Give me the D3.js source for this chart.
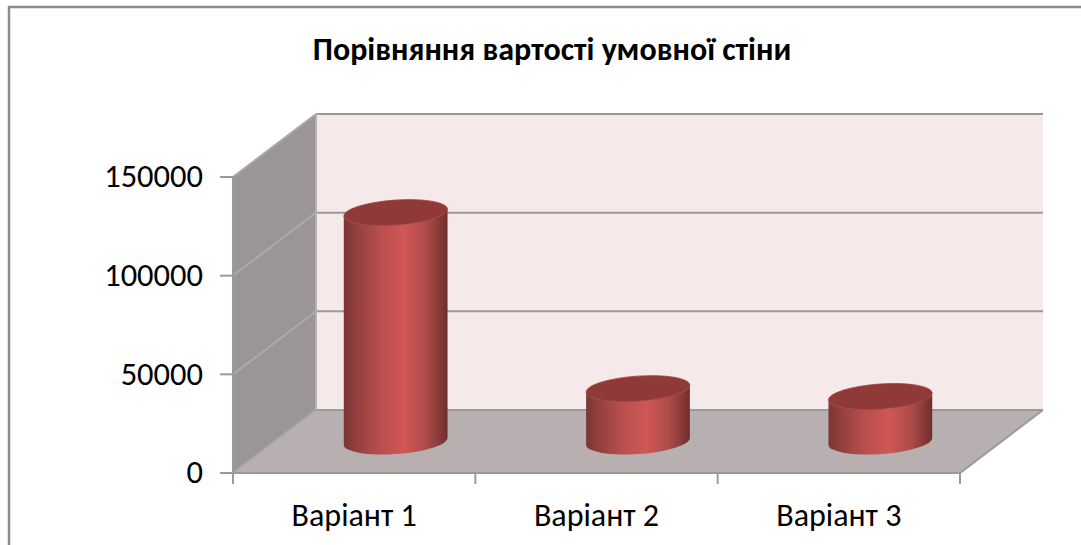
<!DOCTYPE html>
<html>
<head>
<meta charset="utf-8">
<script src="https://cdn.jsdelivr.net/npm/d3@7"></script>
<style>
html, body { margin: 0; padding: 0; background: #fff; }
svg { display: block; font-family: Carlito, Lato, "Open Sans", sans-serif; }
</style>
</head>
<body>
<div id="chart"></div>
<script>
const categories = ['Варіант 1', 'Варіант 2', 'Варіант 3'];
const wallCost = [116000, 26800, 22800];
const yTicks = [0, 50000, 100000, 150000];
const chartTitle = 'Порівняння вартості умовної стіни';

const width = 1081, height = 545;
const x0 = 233, x1 = 960, y0 = 473, yTop = 177;
const depthX = 83, depthY = -63;
const rx = 52, ry = 12.5, tilt = -4;
const gridColor = '#9a9a9a';
const fontFamily = 'Carlito, Lato, "Open Sans", sans-serif';

const svg = d3.select('#chart').append('svg')
    .attr('width', width)
    .attr('height', height);

const scaleX = d3.scaleBand().domain(categories).range([x0, x1]);
const scaleY = d3.scaleLinear().domain([0, 150000]).range([y0, yTop]);
const edgeX = d3.scaleLinear().domain([0, categories.length]).range([x0, x1]);

// cylinder shading
const grad = svg.append('defs').append('linearGradient')
    .attr('id', 'cyl')
    .attr('x1', '0%').attr('x2', '100%')
    .attr('y1', '0%').attr('y2', '0%');
[[0, '#7c3634'], [0.12, '#923f3e'], [0.35, '#b84f4e'], [0.58, '#d05755'], [0.8, '#ab4b49'], [0.94, '#823735'], [1, '#6d2e2d']]
    .forEach(s => grad.append('stop').attr('offset', s[0]).attr('stop-color', s[1]));

// outer frame
svg.append('path')
    .attr('d', `M9,${height} V7 H${width}`)
    .style('fill', 'none')
    .style('stroke', '#8c8c8c')
    .style('stroke-width', 2.5);

// walls
const poly = pts => 'M' + pts.map(p => p.join(',')).join('L') + 'Z';

svg.append('path')
    .attr('d', poly([[x0 + depthX, scaleY(150000) + depthY], [x1 + depthX, scaleY(150000) + depthY], [x1 + depthX, y0 + depthY], [x0 + depthX, y0 + depthY]]))
    .style('fill', '#f5e9e9');

svg.append('path')
    .attr('d', poly([[x0, y0], [x0 + depthX, y0 + depthY], [x1 + depthX, y0 + depthY], [x1, y0]]))
    .style('fill', '#b8b0b0');

svg.append('path')
    .attr('d', poly([[x0, y0], [x0, scaleY(150000)], [x0 + depthX, scaleY(150000) + depthY], [x0 + depthX, y0 + depthY]]))
    .style('fill', '#9b9695');

// gridlines
const grid = svg.append('g')
    .style('fill', 'none')
    .style('stroke', gridColor)
    .style('stroke-width', 2);

yTicks.forEach(t => {
    grid.append('path')
        .attr('d', `M${x0},${scaleY(t)} L${x0 + depthX},${scaleY(t) + depthY}`)
        .style('stroke', '#aaaaaa');
    grid.append('path')
        .attr('d', `M${x0 + depthX},${scaleY(t) + depthY} H${x1 + depthX}`);
});

grid.append('path').attr('d', `M${x0},${y0} V${yTop}`);
grid.append('path').attr('d', `M${x0 + depthX},${y0 + depthY} V${yTop + depthY}`).style('stroke', '#b5b0b0');
grid.append('path').attr('d', `M${x0},${y0} H${x1} L${x1 + depthX},${y0 + depthY}`);

// axes
const yAxis = d3.axisLeft(scaleY).tickValues(yTicks).tickSize(13).tickPadding(17).offset(0).tickFormat(d => d);
const xAxis = d3.axisBottom(edgeX).tickValues(d3.range(categories.length + 1)).tickSize(11).offset(0).tickFormat('');

const yAxisGroup = svg.append('g').attr('transform', `translate(${x0},0)`).call(yAxis);
const xAxisGroup = svg.append('g').attr('transform', `translate(0,${y0})`).call(xAxis);

[yAxisGroup, xAxisGroup].forEach(g => {
    g.select('.domain').remove();
    g.selectAll('line').style('stroke', gridColor).style('stroke-width', 2);
});
yAxisGroup.selectAll('text')
    .style('font-family', fontFamily)
    .style('font-size', '32.5px')
    .style('fill', '#000');

// cylinders
const bars = svg.selectAll('.bar')
    .data(categories.map((c, i) => ({ c: c, v: wallCost[i] })))
    .enter()
    .append('g')
    .attr('class', 'bar')
    .attr('transform', d => `translate(${scaleX(d.c) + scaleX.bandwidth() / 2 + depthX / 2},${y0 + depthY / 2})`);

const dx = rx * Math.cos(tilt * Math.PI / 180);
const dy = rx * Math.sin(tilt * Math.PI / 180);

bars.append('path')
    .attr('d', d => {
        const h = scaleY(0) - scaleY(d.v);
        return `M${-dx},${-dy - h} L${-dx},${-dy}`
            + ` A${rx},${ry} ${tilt} 0 0 ${dx},${dy}`
            + ` L${dx},${dy - h}`
            + ` A${rx},${ry} ${tilt} 0 1 ${-dx},${-dy - h}Z`;
    })
    .style('fill', 'url(#cyl)');

bars.append('ellipse')
    .attr('rx', rx)
    .attr('ry', ry)
    .attr('transform', d => `translate(0,${scaleY(d.v) - scaleY(0)}) rotate(${tilt})`)
    .style('fill', '#8f3a38')
    .style('stroke', '#a5403e')
    .style('stroke-width', 0.8);

// category labels
svg.selectAll('.cat')
    .data(categories)
    .enter()
    .append('text')
    .attr('class', 'cat')
    .attr('x', d => scaleX(d) + scaleX.bandwidth() / 2)
    .attr('y', 526)
    .style('text-anchor', 'middle')
    .style('font-size', '32px')
    .text(d => d);

svg.append('text')
    .attr('x', 552)
    .attr('y', 60)
    .style('text-anchor', 'middle')
    .style('font-size', '32px')
    .style('font-weight', 'bold')
    .text(chartTitle);
</script>
</body>
</html>
